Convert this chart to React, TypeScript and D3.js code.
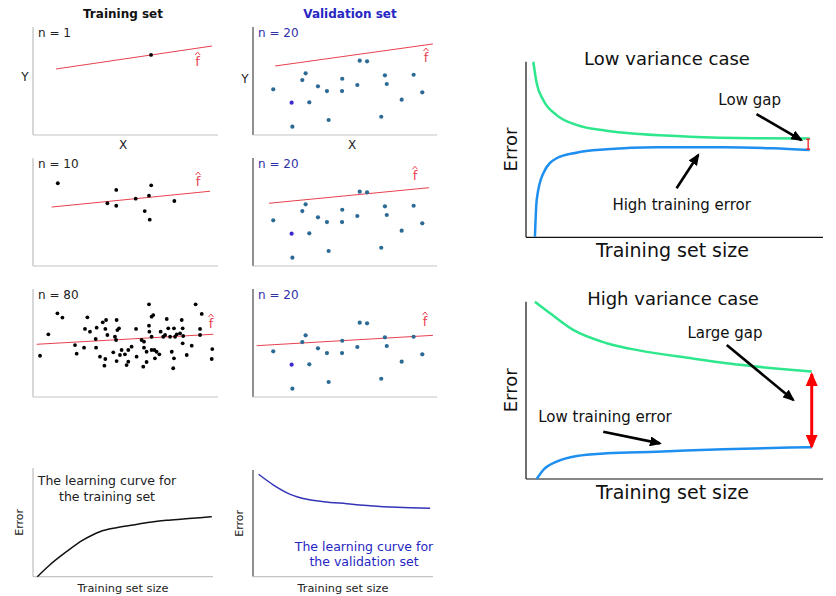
import React from "react";
import * as d3 from "d3";

const FONT = "DejaVu Sans, Verdana, sans-serif";
const W = 836;
const H = 596;

// ---- small scatter panels (units 0..10) ----
const trainN1X = [6.38];
const trainN1Y = [7.41];

const trainN10X = [1.34, 4.02, 4.5, 4.5, 5.55, 6.04, 6.27, 6.39, 6.31, 7.64];
const trainN10Y = [7.66, 5.81, 7.04, 5.58, 6.23, 5.09, 6.51, 7.47, 4.29, 6.02];

const trainN80X = [
  0.38, 0.83, 1.32, 1.59, 2.27, 2.36, 2.76, 2.94, 2.81, 3.39, 3.41, 3.44, 3.77, 3.95, 3.91, 4.02,
  3.91, 3.86, 4.34, 4.43, 4.49, 4.52, 4.56, 4.65, 4.52, 4.7, 4.79, 4.97, 5.06, 5.15, 5.33, 5.57,
  5.6, 5.96, 6.0, 6.0, 6.14, 6.27, 6.27, 6.29, 6.41, 6.41, 6.5, 6.41, 6.56, 6.68, 6.59, 6.83,
  6.9, 7.14, 7.23, 7.31, 7.41, 7.5, 7.62, 7.62, 7.58, 7.68, 7.77, 8.04, 8.09, 8.12, 8.09, 8.31,
  8.58, 8.79, 9.03, 9.12, 9.69, 9.66, 3.62, 5.87, 7.04, 7.95, 5.15, 3.08, 6.14, 9.03,
];
const trainN80Y = [
  3.82, 5.8, 7.75, 7.35, 4.81, 4.01, 4.57, 7.38, 6.3, 5.37, 4.57, 6.42, 6.91, 7.13, 6.3, 5.74,
  3.52, 2.9, 4.14, 5.58, 5.28, 7.13, 6.2, 6.36, 3.33, 3.89, 4.35, 3.95, 2.96, 3.27, 4.66, 6.3,
  3.73, 2.81, 4.57, 5.12, 4.19, 8.58, 6.6, 6.05, 5.58, 7.44, 7.59, 4.35, 4.35, 4.19, 3.58, 3.95,
  6.05, 5.74, 7.22, 6.36, 5.58, 4.19, 6.36, 3.58, 2.66, 5.58, 5.8, 7.13, 6.36, 5.65, 4.97, 3.89,
  4.75, 8.58, 6.3, 7.69, 4.44, 3.52, 3.73, 5.28, 5.58, 5.9, 4.35, 6.05, 3.24, 5.74,
];

const validX = [
  1.1, 2.1, 2.14, 2.68, 2.86, 3.06, 3.53, 4.02, 4.11, 4.85, 4.84, 5.67, 5.8, 6.2, 6.97, 7.17, 7.27,
  8.08, 8.73, 9.2,
];
const validY = [
  4.23, 2.99, 0.77, 5.09, 5.71, 3.03, 4.51, 4.07, 1.39, 5.21, 4.07, 4.63, 6.88, 6.82, 1.69, 5.53,
  4.72, 3.27, 5.58, 3.95,
];
const validHighlight = 1;

const sampleSizes = [1, 10, 80];
// fitted line end points [x0, y0, x1, y1]
const fitTrain = [
  [1.24, 6.11, 9.68, 8.24],
  [1.01, 5.46, 9.57, 6.92],
  [0.2, 4.88, 9.75, 5.81],
];
const fitValid = [
  [1.2, 6.39, 9.78, 8.43],
  [0.87, 5.81, 9.57, 7.25],
  [0.2, 4.75, 9.78, 5.71],
];
const fhatTrain = [
  [8.9, 6.94],
  [8.92, 7.96],
  [9.62, 6.94],
];
const fhatValid = [
  [9.4, 7.31],
  [8.8, 8.49],
  [9.35, 7.13],
];

// ---- small learning curves (units 0..100) ----
const lcTrainSize = [2.4, 9.3, 18.6, 27.9, 37.1, 46.4, 55.7, 65.0, 74.2, 83.5, 92.8, 99.3];
const lcTrainErr = [0, 10.8, 23.0, 33.8, 41.4, 45.1, 47.6, 50.0, 51.9, 53.1, 54.3, 55.2];
const lcValidSize = [3.1, 11.4, 20.7, 30.0, 39.2, 52.1, 65.1, 79.9, 98.4];
const lcValidErr = [96.0, 85.9, 77.2, 72.5, 70.3, 68.4, 66.5, 65.0, 64.1];

// ---- big panels (units 0..100) ----
const lowValSize = [2.46, 3.6, 5.8, 10.3, 17.0, 27.1, 38.3, 55.2, 77.6, 95.5];
const lowValErr = [100, 87.7, 78.2, 69.6, 64.0, 60.7, 58.8, 57.3, 56.4, 56.2];
const lowTrainSize = [3.0, 3.6, 5.8, 10.3, 17.0, 27.1, 44.0, 66.4, 83.2, 95.5];
const lowTrainErr = [0.3, 21.2, 36.4, 45.0, 48.2, 50.1, 51.3, 51.3, 50.7, 49.7];

const highValSize = [3.0, 8.1, 15.9, 27.2, 38.4, 55.2, 72.1, 88.9, 96.2];
const highValErr = [100, 93.5, 84.1, 76.6, 72.4, 68.2, 64.4, 61.6, 60.6];
const highTrainSize = [3.6, 5.8, 10.3, 17.1, 27.2, 44.0, 66.4, 88.9, 96.2];
const highTrainErr = [0, 5.1, 9.8, 13.0, 14.5, 15.4, 16.8, 17.7, 17.9];

const GREEN = "#2ee68c";
const BLUE = "#1f8fef";
const RED_FIT = "#e8414e";
const VAL_DOT = "#2b6a94";
const VAL_TEXT = "#2626c4";

function FHat({ cx, cy }: { cx: number; cy: number }) {
  // "f" with a circumflex drawn above it
  const base = cy + 6;
  return (
    <g>
      <text x={cx} y={base} fontSize={13} fill={RED_FIT} textAnchor="middle">
        f
      </text>
      <path
        d={`M${cx - 2.5},${base - 11} L${cx},${base - 14} L${cx + 2.5},${base - 11}`}
        fill="none"
        stroke={RED_FIT}
        strokeWidth={1}
      />
    </g>
  );
}

function ScatterPanel({ col, row }: { col: number; row: number }) {
  const off = row * 131;
  const x = d3.scaleLinear().domain([0, 10]).range(col === 0 ? [33, 218] : [253, 437]);
  const y = d3.scaleLinear().domain([0, 10]).range([135 + off, 27 + off]);
  const isTrain = col === 0;
  const xs = isTrain ? [trainN1X, trainN10X, trainN80X][row] : validX;
  const ys = isTrain ? [trainN1Y, trainN10Y, trainN80Y][row] : validY;
  const fit = isTrain ? fitTrain[row] : fitValid[row];
  const fh = isTrain ? fhatTrain[row] : fhatValid[row];
  const [x0, x1] = x.range();
  const [yb, yt] = y.range();
  return (
    <g>
      <line x1={x0} x2={x0} y1={yt} y2={yb} stroke={isTrain ? "#b0b0b0" : "#222"} strokeWidth={1} />
      <line x1={x0} x2={x1} y1={yb} y2={yb} stroke="#c4c4c4" strokeWidth={1.2} />
      <text x={x0 + 5} y={yt + 10} fontSize={12} fill={isTrain ? "#222" : "#3030a8"}>
        {`n = ${isTrain ? sampleSizes[row] : 20}`}
      </text>
      <line x1={x(fit[0])} y1={y(fit[1])} x2={x(fit[2])} y2={y(fit[3])} stroke={RED_FIT} strokeWidth={1} />
      {xs.map((d, i) => (
        <circle
          key={i}
          cx={x(d)}
          cy={y(ys[i])}
          r={isTrain ? 1.9 : 2.1}
          fill={isTrain ? "#000" : i === validHighlight ? "#3d2bd1" : VAL_DOT}
        />
      ))}
      <FHat cx={x(fh[0])} cy={y(fh[1])} />
    </g>
  );
}

function LearningCurve({ col }: { col: number }) {
  const x = d3.scaleLinear().domain([0, 100]).range(col === 0 ? [33, 213] : [253, 433]);
  const y = d3.scaleLinear().domain([0, 100]).range(col === 0 ? [576.7, 468] : [576.7, 470]);
  const sizes = col === 0 ? lcTrainSize : lcValidSize;
  const errs = col === 0 ? lcTrainErr : lcValidErr;
  const line = d3
    .line<number>()
    .x((d) => x(d))
    .y((_, i) => y(errs[i]))
    .curve(d3.curveMonotoneX);
  const [x0, x1] = x.range();
  const [yb, yt] = y.range();
  const color = col === 0 ? "#111" : "#3434b8";
  return (
    <g>
      <line x1={x0} x2={x0} y1={yt} y2={yb} stroke={col === 0 ? "#b0b0b0" : "#222"} strokeWidth={1} />
      <line x1={x0} x2={x1} y1={yb} y2={yb} stroke="#c4c4c4" strokeWidth={1.2} />
      <path d={line(sizes) || ""} fill="none" stroke={color} strokeWidth={1.5} />
      <text
        transform={`translate(${x0 - 10},${(yt + yb) / 2}) rotate(-90)`}
        fontSize={11}
        textAnchor="middle"
        fill="#222"
      >
        Error
      </text>
      <text x={(x0 + x1) / 2} y={592} fontSize={11.3} textAnchor="middle" fill="#222">
        Training set size
      </text>
      {col === 0 ? (
        <text fontSize={12.5} textAnchor="middle" fill="#222">
          <tspan x={107} y={485}>The learning curve for</tspan>
          <tspan x={107} y={501}>the training set</tspan>
        </text>
      ) : (
        <text fontSize={12.5} textAnchor="middle" fill={VAL_TEXT}>
          <tspan x={364} y={551}>The learning curve for</tspan>
          <tspan x={364} y={566}>the validation set</tspan>
        </text>
      )}
    </g>
  );
}

type Ann = { text: string; tx: number; ty: number; from: [number, number]; to: [number, number] };

function BigPanel({ top }: { top: boolean }) {
  const x = d3.scaleLinear().domain([0, 100]).range([526, 823]);
  const y = d3.scaleLinear().domain([0, 100]).range(top ? [237.3, 61.7] : [479, 301.7]);
  const valSize = top ? lowValSize : highValSize;
  const valErr = top ? lowValErr : highValErr;
  const trSize = top ? lowTrainSize : highTrainSize;
  const trErr = top ? lowTrainErr : highTrainErr;
  const mk = (errs: number[]) =>
    d3
      .line<number>()
      .x((d) => x(d))
      .y((_, i) => y(errs[i]))
      .curve(d3.curveMonotoneX);
  const [x0, x1] = x.range();
  const [yb, yt] = y.range();
  const anns: Ann[] = top
    ? [
        { text: "Low gap", tx: 75.3, ty: 78.2, from: [77.6, 70.2], to: [92.7, 55.4] },
        { text: "High training error", tx: 52.4, ty: 18.4, from: [50.7, 27.9], to: [58.0, 46.9] },
      ]
    : [
        { text: "Large gap", tx: 67.0, ty: 82.2, from: [67.6, 75.6], to: [90.0, 44.6] },
        { text: "Low training error", tx: 26.6, ty: 35.1, from: [26.0, 26.7], to: [45.1, 20.1] },
      ];
  const gapX = x(top ? 95.0 : 96.2);
  return (
    <g fontFamily={FONT}>
      <line x1={x0} x2={x0} y1={yt} y2={yb} stroke="#111" strokeWidth={1.2} />
      <line x1={x0} x2={x1} y1={yb} y2={yb} stroke="#111" strokeWidth={1.2} />
      <text x={top ? 667 : 673} y={yt + 3} fontSize={18} textAnchor="middle" fill="#111">
        {top ? "Low variance case" : "High variance case"}
      </text>
      <text
        transform={`translate(${x0 - 9},${(yt + yb) / 2}) rotate(-90)`}
        fontSize={18}
        textAnchor="middle"
        fill="#111"
      >
        Error
      </text>
      <text x={(x0 + x1) / 2 - 2} y={yb + 20} fontSize={19} textAnchor="middle" fill="#111">
        Training set size
      </text>
      <path d={mk(valErr)(valSize) || ""} fill="none" stroke={GREEN} strokeWidth={2.5} />
      <path d={mk(trErr)(trSize) || ""} fill="none" stroke={BLUE} strokeWidth={2.5} />
      {anns.map((a, i) => (
        <g key={i}>
          <text x={x(a.tx)} y={y(a.ty) + 5} fontSize={15} textAnchor="middle" fill="#111">
            {a.text}
          </text>
          <line
            x1={x(a.from[0])}
            y1={y(a.from[1])}
            x2={x(a.to[0])}
            y2={y(a.to[1])}
            stroke="#000"
            strokeWidth={2.6}
            markerEnd="url(#arrowBlack)"
          />
        </g>
      ))}
      {top ? (
        <g stroke="#ff2020" strokeWidth={1.3}>
          <line x1={gapX} x2={gapX} y1={y(55.9)} y2={y(50.2)} />
          <line x1={gapX - 2} x2={gapX + 2} y1={y(55.9)} y2={y(55.9)} />
          <line x1={gapX - 2} x2={gapX + 2} y1={y(50.2)} y2={y(50.2)} />
        </g>
      ) : (
        <line
          x1={gapX}
          x2={gapX}
          y1={y(59.2)}
          y2={y(18.2)}
          stroke="#ff0000"
          strokeWidth={3}
          markerStart="url(#arrowRed)"
          markerEnd="url(#arrowRed)"
        />
      )}
    </g>
  );
}

export default function App() {
  return (
    <div style={{ position: "absolute", left: 0, top: 0 }}>
      <svg width={W} height={H} viewBox={`0 0 ${W} ${H}`} fontFamily={FONT} style={{ display: "block", background: "#fff" }}>
        <defs>
          <marker id="arrowBlack" viewBox="0 0 12 10" refX={10} refY={5} markerWidth={12} markerHeight={10} markerUnits="userSpaceOnUse" orient="auto">
            <path d="M0,0 L12,5 L0,10 z" fill="#000" />
          </marker>
          <marker id="arrowRed" viewBox="0 0 14 12" refX={12} refY={6} markerWidth={14} markerHeight={12} markerUnits="userSpaceOnUse" orient="auto-start-reverse">
            <path d="M0,0 L14,6 L0,12 z" fill="#ff0000" />
          </marker>
        </defs>
        <rect width={W} height={H} fill="#fff" />
        <text x={123} y={18} fontSize={12} fontWeight="bold" textAnchor="middle" fill="#111">
          Training set
        </text>
        <text x={350} y={18} fontSize={12} fontWeight="bold" textAnchor="middle" fill={VAL_TEXT}>
          Validation set
        </text>
        <text x={25} y={81} fontSize={12} textAnchor="middle" fill="#222">Y</text>
        <text x={245} y={83} fontSize={12} textAnchor="middle" fill="#222">Y</text>
        <text x={123} y={149} fontSize={12} textAnchor="middle" fill="#222">X</text>
        <text x={352} y={149} fontSize={12} textAnchor="middle" fill="#222">X</text>
        {[0, 1, 2].map((r) => (
          <g key={r}>
            <ScatterPanel col={0} row={r} />
            <ScatterPanel col={1} row={r} />
          </g>
        ))}
        <LearningCurve col={0} />
        <LearningCurve col={1} />
        <BigPanel top={true} />
        <BigPanel top={false} />
      </svg>
    </div>
  );
}
